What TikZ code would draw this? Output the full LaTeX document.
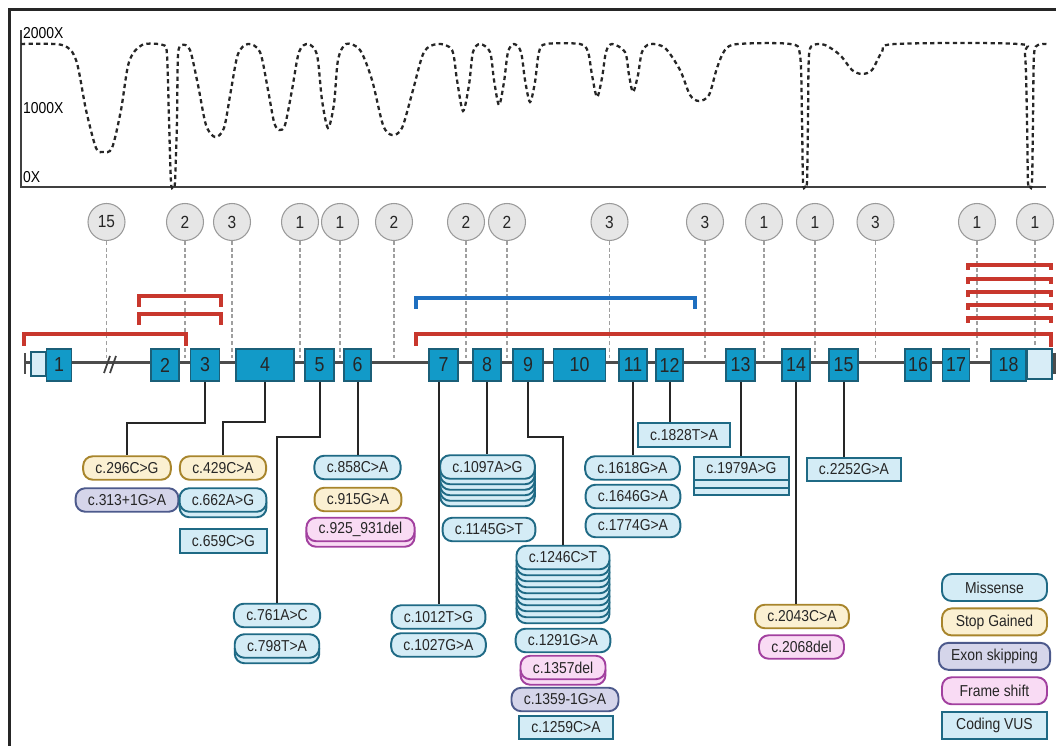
\documentclass[tikz,border=0pt]{standalone}
\usepackage{fontspec}
\setmainfont{Liberation Sans}[FakeStretch=0.88]
\usepackage{xcolor}
\usetikzlibrary{positioning}

\definecolor{exonblue}{HTML}{129AC8}
\definecolor{exonedge}{HTML}{1B5F78}
\definecolor{utrfill}{HTML}{D8EDF7}
\definecolor{brred}{HTML}{C8372D}
\definecolor{brblue}{HTML}{1E6FC0}
\definecolor{misfill}{HTML}{D4ECF6}
\definecolor{misedge}{HTML}{1F6A85}
\definecolor{stopfill}{HTML}{FBF0D2}
\definecolor{stopedge}{HTML}{A8852C}
\definecolor{skipfill}{HTML}{D5D5EA}
\definecolor{skipedge}{HTML}{4D5A8C}
\definecolor{fsfill}{HTML}{F9DBF4}
\definecolor{fsedge}{HTML}{A2409F}
\definecolor{cntfill}{HTML}{E6E6E6}
\definecolor{cntedge}{HTML}{9A9A9A}

% style, copies, step, x, y, text
\newcommand{\mutstack}[6]{%
  \foreach \k in {#2,...,1}{\node[#1] at (#4,#5+\k*#3) {\phantom{#6}};}}

\begin{document}
\begin{tikzpicture}[x=0.02cm,y=-0.02cm,
  font=\fontsize{9}{10}\selectfont,
  axlab/.style={anchor=west,inner sep=1pt},
  cov/.style={line width=1.3pt,black!85,dash pattern=on 2.4pt off 1.9pt},
  exon/.style={draw=exonedge,fill=exonblue,line width=1pt,minimum height=0.64cm,inner sep=1pt,font=\fontsize{11.5}{12}\selectfont,text=black!85},
  utr/.style={draw=exonedge,fill=utrfill,line width=1pt,inner sep=0pt},
  backbone/.style={line width=0.06cm,black!70},
  cnt/.style={circle,draw=cntedge,fill=cntfill,line width=0.6pt,minimum size=0.74cm,inner sep=0pt,font=\fontsize{10}{11}\selectfont,text=black!85},
  cntline/.style={draw=gray!75,line width=1pt,dash pattern=on 2.2pt off 1.6pt},
  brk/.style={line width=0.08cm},
  mut/.style={rounded corners=5.5pt,line width=1.1pt,minimum height=0.47cm,inner xsep=7pt,inner ysep=0pt,text=black!85},
  mutmis/.style={mut,draw=misedge,fill=misfill},
  mutstop/.style={mut,draw=stopedge,fill=stopfill},
  mutskip/.style={mut,draw=skipedge,fill=skipfill},
  mutfs/.style={mut,draw=fsedge,fill=fsfill},
  mutvus/.style={mut,sharp corners,draw=misedge,fill=misfill},
  link/.style={line width=0.04cm,black!85},
  lgbox/.style={minimum width=2.1cm,minimum height=0.54cm}]
\useasboundingbox (0,0) rectangle (1056,746);

% frame and coverage track
\draw[line width=0.05cm,black!85] (9.5,746) -- (9.5,9.5) -- (1056,9.5);
\draw[line width=0.04cm,black!75] (21,30) -- (21,187.5) -- (1046,187.5);
\node[axlab] (y2000) at (21,33) {2000X};
\node[axlab] (y1000) at (21,108) {1000X};
\node[axlab] (y0) at (21,177) {0X};
\draw[cov] plot[smooth,tension=0.5] coordinates {
  (21,44) (62,45) (76,60) (86,110) (96,148) (103,152) (112,148) (121,110) (129,62) (142,45) (163,45)
  (167,55) (169,120) (171,182) (173,187) (175,182) (177,120) (178,55) (182,45)
  (190,50) (198,85) (206,125) (215,137) (224,128) (231,90) (238,54) (248,44)
  (260,52) (268,90) (274,122) (279,130) (285,125) (292,90) (299,52) (308,44)
  (317,55) (322,100) (328,128) (334,104) (338,60) (346,44)
  (360,50) (372,80) (383,125) (392,135) (402,128) (413,90) (424,52) (438,44)
  (452,50) (457,80) (463,111) (469,85) (473,52) (480,44)
  (490,52) (494,80) (499,105) (504,82) (508,52) (514,44)
  (521,52) (525,80) (530,102) (535,82) (539,52) (546,44) (580,44)
  (588,52) (592,75) (597,97) (602,78) (606,52) (612,44)
  (625,52) (629,75) (633,92) (638,75) (642,52) (650,44)
  (665,48) (680,70) (690,95) (699,101) (709,95) (717,68) (725,50) (738,44) (790,44)
  (800,55) (802,120) (803,182) (805,187) (807,182) (808,120) (809,55) (814,45)
  (825,45) (840,55) (852,70) (862,74) (872,70) (882,52) (895,44) (1018,44)
  (1025,55) (1027,120) (1028,182) (1030,187) (1032,182) (1033,120) (1034,55) (1038,45) (1047,44)};

% variant counts
\foreach \n/\x/\v/\b in {1/106.5/15/362,2/185/2/362,3/232/3/362,4/300/1/362,5/340/1/362,
  6/394/2/362,7/466/2/362,8/507/2/362,9/609.5/3/362,10/705/3/362,11/764/1/362,
  12/815/1/362,13/875.5/3/362,14/977/1/362,15/1035/1/349}{
  \node[cnt] (c\n) at (\x,222) {\v};
  \coordinate (g\n) at (\x,\b);
  \draw[cntline] (c\n) -- (g\n);
}

% brackets
\draw[brk,brred] (24,346) |- (186,334) -- (186,346);
\draw[brk,brred] (139,307) |- (221,296) -- (221,307);
\draw[brk,brred] (139,325) |- (221,314) -- (221,325);
\draw[brk,brblue] (416,309) |- (695,298) -- (695,309);
\draw[brk,brred] (416,346) |- (1051,334) -- (1051,347);
\foreach \y in {265,279,292,305,318}
  \draw[brk,brred] (968,\y+5) |- (1051,\y) -- (1051,\y+5);

% gene model
\coordinate (gstart) at (25,363);
\coordinate (gend) at (1054,363);
\draw[backbone] (gstart) -- (gend);
\draw[backbone] (25,353) -- (25,374) (1054,353) -- (1054,374);
\draw[line width=1pt,black!75] (104,373) -- (110,356) (110,373) -- (116,356);
\node[utr,minimum width=0.3cm,minimum height=0.48cm] (utr5) at (38.5,364) {};
\node[utr,minimum width=0.5cm,minimum height=0.6cm] (utr3) at (1039.5,364) {};
\foreach \n/\c/\w in {1/59/25,2/165/28,3/205/29,4/265/58,5/319.5/29,6/357.5/27,
  7/443.5/29,8/487/28,9/528/30,10/579.5/52,11/633/28,12/669.5/27,13/740.5/29,
  14/796/28,15/843.5/29.5,16/918/26,17/956/27,18/1008.5/35}
  \node[exon,minimum width=\w*0.02cm] (e\n) at (\c,365) {\n};

% variants
\node[mutstop] (m296) at (127,468) {c.296C>G};
\node[mutskip] (m313) at (127,500) {c.313+1G>A};
\node[mutstop] (m429) at (223,468) {c.429C>A};
\mutstack{mutmis}{1}{5.5}{223}{500}{c.662A>G}
\node[mutmis] (m662) at (223,500) {c.662A>G};
\node[mutvus] (m659) at (223.5,541) {c.659C>G};
\node[mutmis] (m858) at (357.5,467.5) {c.858C>A};
\node[mutstop] (m915) at (358,499.5) {c.915G>A};
\mutstack{mutfs}{1}{5.5}{360.5}{529.5}{c.925\_931del}
\node[mutfs] (m925) at (360.5,529.5) {c.925\_931del};
\node[mutmis] (m761) at (277,615.5) {c.761A>C};
\mutstack{mutmis}{1}{5.5}{277}{646}{c.798T>A}
\node[mutmis] (m798) at (277,646) {c.798T>A};
\node[mutmis] (m1012) at (438.5,617) {c.1012T>G};
\node[mutmis] (m1027) at (438.5,645) {c.1027G>A};
\mutstack{mutmis}{5}{5.5}{487.5}{467}{c.1097A>G}
\node[mutmis] (m1097) at (487.5,467) {c.1097A>G};
\node[mutmis] (m1145) at (489,529.5) {c.1145G>T};
\mutstack{mutmis}{9}{6}{563}{557.5}{c.1246C>T}
\node[mutmis] (m1246) at (563,557.5) {c.1246C>T};
\node[mutmis] (m1291) at (563,640.5) {c.1291G>A};
\mutstack{mutfs}{1}{5.5}{563}{667.5}{c.1357del}
\node[mutfs] (m1357) at (563,667.5) {c.1357del};
\node[mutskip] (m1359) at (565,699.5) {c.1359-1G>A};
\node[mutvus] (m1259) at (566,727.5) {c.1259C>A};
\node[mutmis] (m1618) at (632.5,468) {c.1618G>A};
\node[mutmis] (m1646) at (633,496.5) {c.1646G>A};
\node[mutmis] (m1774) at (633,525.5) {c.1774G>A};
\node[mutvus] (m1828) at (684,435) {c.1828T>A};
\mutstack{mutvus}{2}{7.5}{741.5}{468.5}{c.1979A>G}
\node[mutvus] (m1979) at (741.5,468.5) {c.1979A>G};
\node[mutvus] (m2252) at (854,469.5) {c.2252G>A};
\node[mutstop] (m2043) at (802,616.5) {c.2043C>A};
\node[mutfs] (m2068) at (801.5,647) {c.2068del};

% exon to variant links
\draw[link] (e3.south) -- ++(0,41) -| (m296.north);
\draw[link] (e4.south) -- ++(0,40) -| (m429.north);
\draw[link] (e5.south) -- ++(0,55) -| (m761.north);
\draw[link] (e6.south) -- (e6.south |- m858.north);
\draw[link] (m1012.north |- e7.south) -- (m1012.north);
\draw[link] (e8.south) -- (e8.south |- m1097.north);
\draw[link] (e9.south) -- ++(0,55) -| (m1246.north);
\draw[link] (e11.south) -- (e11.south |- m1618.north);
\draw[link] (e12.south) -- (e12.south |- m1828.north);
\draw[link] (e13.south) -- (e13.south |- m1979.north);
\draw[link] (e14.south) -- (e14.south |- m2043.north);
\draw[link] (e15.south) -- (e15.south |- m2252.north);

% legend
\node[mutmis,lgbox] (lgmis) at (994.5,587.5) {Missense};
\node[mutstop,lgbox,below=0.11cm of lgmis] (lgstop) {Stop Gained};
\node[mutskip,lgbox,below=0.11cm of lgstop] (lgskip) {Exon skipping};
\node[mutfs,lgbox,below=0.11cm of lgskip] (lgfs) {Frame shift};
\node[mutvus,lgbox,below=0.11cm of lgfs] (lgvus) {Coding VUS};
\end{tikzpicture}
\end{document}
